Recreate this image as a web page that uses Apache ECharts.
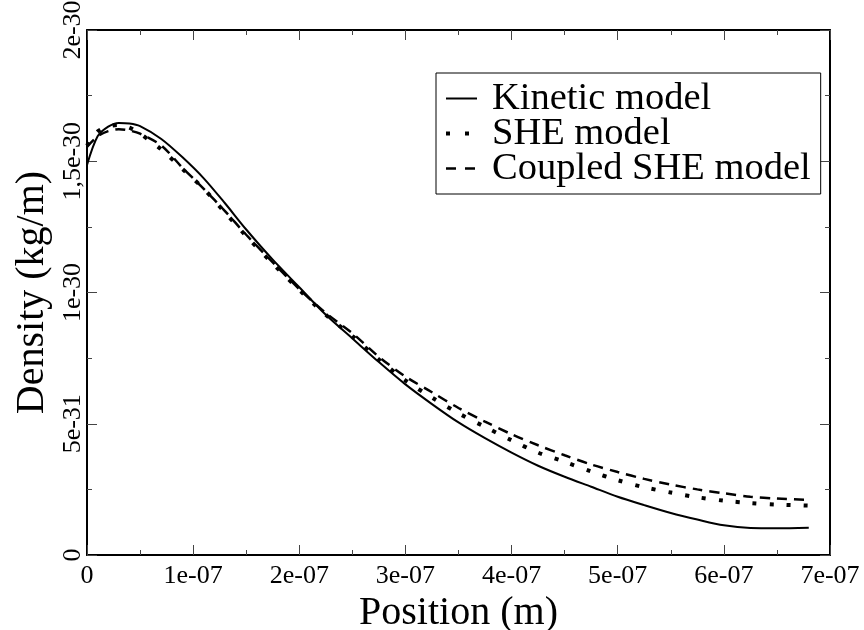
<!DOCTYPE html>
<html>
<head>
<meta charset="utf-8">
<script src="https://cdn.jsdelivr.net/npm/echarts@6/dist/echarts.min.js"></script>
<style>
  html, body { margin: 0; padding: 0; background: #fff; }
  #chart { width: 864px; height: 630px; }
</style>
</head>
<body>
<div id="chart"></div>
<script>
// Position along the device, in units of 1e-07 m
const position = [0, 0.1, 0.2, 0.3, 0.4, 0.5, 0.7, 0.9, 1.1, 1.3, 1.5, 1.75, 2.0, 2.25, 2.5, 2.75,
  3.0, 3.25, 3.5, 3.75, 4.0, 4.25, 4.5, 4.75, 5.0, 5.25, 5.5, 5.75, 6.0, 6.25, 6.5, 6.8];

// Density profiles, in units of 1e-30 kg/m
const kineticModel = [1.486, 1.595, 1.632, 1.646, 1.644, 1.634, 1.585, 1.515, 1.435, 1.34, 1.24, 1.125, 1.02, 0.915, 0.825, 0.735,
  0.65, 0.575, 0.505, 0.445, 0.39, 0.34, 0.298, 0.26, 0.222, 0.19, 0.16, 0.135, 0.113, 0.103, 0.102, 0.104];
const sheModel = [1.56, 1.613, 1.633, 1.638, 1.628, 1.605, 1.545, 1.47, 1.395, 1.305, 1.215, 1.11, 1.01, 0.915, 0.834, 0.745,
  0.665, 0.6, 0.54, 0.488, 0.437, 0.39, 0.355, 0.318, 0.285, 0.258, 0.238, 0.22, 0.207, 0.198, 0.192, 0.188];
const coupledSheModel = [1.555, 1.595, 1.615, 1.622, 1.617, 1.605, 1.56, 1.475, 1.395, 1.31, 1.22, 1.115, 1.013, 0.922, 0.845, 0.755,
  0.68, 0.62, 0.56, 0.508, 0.46, 0.418, 0.38, 0.345, 0.316, 0.29, 0.268, 0.25, 0.235, 0.222, 0.215, 0.21];

const seriesNames = ['Kinetic model', 'SHE model', 'Coupled SHE model'];

// Tick labels
const xTickLabels = ['0', '1e-07', '2e-07', '3e-07', '4e-07', '5e-07', '6e-07', '7e-07'];
const yTickLabels = ['0', '5e-31', '1e-30', '1,5e-30', '2e-30'];

const FONT = 'Liberation Serif';
const toPairs = (ys) => position.map((x, i) => [x, ys[i]]);

// Legend keys: a 31x35 box (set by the two moveTo corners) holding the line sample
const KEY_BOX = 'M0,0 M31,35 ';
const legendIcons = [
  'path://' + KEY_BOX + 'M0,16.5 L31,16.5 L31,18.5 L0,18.5 Z',
  'path://' + KEY_BOX + 'M0,15.5 L4,15.5 L4,19.5 L0,19.5 Z M19,15.5 L23,15.5 L23,19.5 L19,19.5 Z',
  'path://' + KEY_BOX + 'M0,16.2 L10,16.2 L10,18.8 L0,18.8 Z M19,16.2 L29,16.2 L29,18.8 L19,18.8 Z'
];

const frameLine = { show: true, onZero: false, lineStyle: { color: '#000', width: 2 } };
const tickStyle = { inside: true, length: 10, lineStyle: { color: '#444', width: 1 } };
const minorStyle = { show: true, splitNumber: 2, length: 5, lineStyle: { color: '#444', width: 1 } };

const chart = echarts.init(document.getElementById('chart'));
chart.setOption({
  animation: false,
  backgroundColor: '#fff',
  grid: { left: 87, right: 34, top: 30, bottom: 75, containLabel: false, outerBoundsMode: 'none' },
  xAxis: [
    {
      type: 'value', position: 'bottom', min: 0, max: 7, interval: 1,
      axisLine: frameLine, axisTick: tickStyle, minorTick: minorStyle, splitLine: { show: false },
      axisLabel: {
        color: '#000', fontFamily: FONT, fontSize: 26, margin: 8,
        formatter: (v) => xTickLabels[Math.round(v)]
      },
      name: 'Position (m)', nameLocation: 'middle', nameGap: 23,
      nameTextStyle: { color: '#000', fontFamily: FONT, fontSize: 40 }
    },
    {
      type: 'value', position: 'top', min: 0, max: 7, interval: 1,
      axisLine: frameLine, axisTick: tickStyle, minorTick: minorStyle, splitLine: { show: false },
      axisLabel: { show: false }
    }
  ],
  yAxis: [
    {
      type: 'value', position: 'left', min: 0, max: 2, interval: 0.5,
      axisLine: frameLine, axisTick: tickStyle, minorTick: minorStyle, splitLine: { show: false },
      axisLabel: {
        color: '#000', fontFamily: FONT, fontSize: 26, margin: 1, rotate: 90,
        formatter: (v) => yTickLabels[Math.round(v / 0.5)]
      },
      name: 'Density (kg/m)', nameLocation: 'middle', nameGap: 20, nameRotate: 90,
      nameTextStyle: { color: '#000', fontFamily: FONT, fontSize: 40 }
    },
    {
      type: 'value', position: 'right', min: 0, max: 2, interval: 0.5,
      axisLine: frameLine, axisTick: tickStyle, minorTick: minorStyle, splitLine: { show: false },
      axisLabel: { show: false }
    }
  ],
  legend: {
    data: seriesNames.map((name, i) => ({ name: name, icon: legendIcons[i] })),
    orient: 'vertical',
    left: 436, top: 73,
    padding: [6, 10, 6, 10],
    itemGap: -4,
    itemWidth: 31, itemHeight: 35,
    borderColor: '#000', borderWidth: 1,
    backgroundColor: '#fff',
    itemStyle: { color: '#000', borderWidth: 0 },
    textStyle: { color: '#000', fontFamily: FONT, fontSize: 38.5, padding: [0, 0, 0, 10] }
  },
  series: [
    {
      name: seriesNames[0], type: 'line', data: toPairs(kineticModel),
      xAxisIndex: 0, yAxisIndex: 0, symbol: 'none', smooth: 0.3,
      lineStyle: { color: '#000', width: 2, type: 'solid' },
      itemStyle: { color: '#000' }
    },
    {
      name: seriesNames[1], type: 'line', data: toPairs(sheModel),
      xAxisIndex: 0, yAxisIndex: 0, symbol: 'none', smooth: 0.3,
      lineStyle: { color: '#000', width: 4, type: [4, 13], cap: 'butt' },
      itemStyle: { color: '#000' }
    },
    {
      name: seriesNames[2], type: 'line', data: toPairs(coupledSheModel),
      xAxisIndex: 0, yAxisIndex: 0, symbol: 'none', smooth: 0.3,
      lineStyle: { color: '#000', width: 2.5, type: [10, 7], cap: 'butt' },
      itemStyle: { color: '#000' }
    }
  ]
});
</script>
</body>
</html>
